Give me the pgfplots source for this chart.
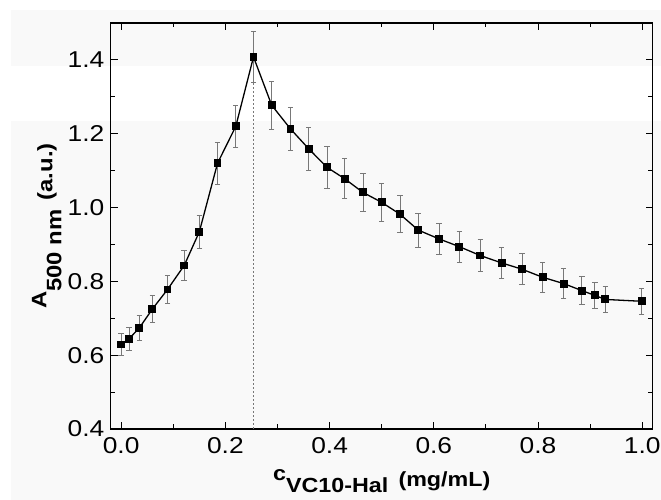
\documentclass[border=0pt]{standalone}
\usepackage{fontspec}
\setmainfont{Liberation Sans}
\usepackage{graphicx}
\usepackage{pgfplots}
\usepackage{pgfplotstable}
\pgfplotsset{compat=1.18}

\definecolor{bggray}{RGB}{249,249,249}
\definecolor{errgray}{RGB}{120,120,120}

% x, absorbance, error
\pgfplotstableread{
x      y      err
0.000  0.629  0.030
0.015  0.644  0.032
0.035  0.674  0.033
0.060  0.725  0.037
0.089  0.778  0.038
0.121  0.843  0.041
0.150  0.934  0.046
0.185  1.120  0.057
0.220  1.220  0.058
0.254  1.408  0.070
0.289  1.277  0.064
0.325  1.213  0.059
0.360  1.159  0.059
0.395  1.109  0.057
0.429  1.078  0.054
0.464  1.041  0.051
0.500  1.014  0.052
0.535  0.982  0.050
0.570  0.939  0.046
0.610  0.915  0.043
0.649  0.894  0.042
0.689  0.870  0.044
0.730  0.850  0.042
0.769  0.833  0.042
0.809  0.811  0.041
0.849  0.794  0.040
0.884  0.775  0.038
0.909  0.762  0.036
0.929  0.751  0.035
0.999  0.746  0.036
}\absdata

\begin{document}
\begin{tikzpicture}[x=1bp,y=1bp]
\fill[bggray] (11,0) rectangle (661,490);
\fill[white] (11,379) rectangle (661,434.3);
\path[use as bounding box] (0,0) rectangle (661,500);
\begin{axis}[
  at={(110.7bp,71bp)}, anchor=south west,
  scale only axis, width=542bp, height=406bp,
  xmin=-0.02, xmax=1.02, ymin=0.4, ymax=1.5,
  xtick={0,0.2,...,1.0}, ytick={0.4,0.6,...,1.4},
  minor x tick num=1, minor y tick num=1,
  tick align=inside,
  major tick length=7bp, minor tick length=4.5bp,
  axis line style={line width=1.3bp},
  every tick/.style={black, line width=1bp},
  /pgf/number format/.cd, fixed, fixed zerofill, precision=1, assume math mode=true,
  /pgfplots/.cd,
  ticklabel style={font=\fontsize{23}{27}\selectfont, xscale=1.15},
  xticklabel style={yshift=-5bp},
  yticklabel style={xshift=-2bp},
  xlabel={\scalebox{1.14}[1]{\fontsize{20.5}{24}\selectfont\bfseries
    c\raisebox{-12bp}{VC10-Hal}\hspace{9bp}\raisebox{-6bp}{(mg/mL)}}},
  ylabel={\scalebox{1.14}[1]{\fontsize{21}{25}\selectfont\bfseries
    A\raisebox{-15bp}{500 nm}\hspace{8bp}\raisebox{-6bp}{(a.u.)}}},
  every axis x label/.style={at={(axis description cs:0.5,-0.128)}, anchor=base, inner sep=0pt},
  every axis y label/.style={at={(axis description cs:-0.1185,0.5)}, anchor=base, rotate=90},
]
\addplot[errgray, line width=0.8bp, dash pattern=on 2bp off 2bp, forget plot]
  coordinates {(0.254,0.4) (0.254,1.408)};
\addplot[black, line width=1.3bp, mark=square*, mark size=3.3bp,
  mark options={solid, fill=black},
  error bars/.cd, y dir=both, y explicit,
  error bar style={errgray, line width=0.8bp},
  error mark options={rotate=90, mark size=2.7bp, errgray, line width=0.8bp}]
  table[x=x, y=y, y error=err] {\absdata};
\end{axis}
\end{tikzpicture}
\end{document}
